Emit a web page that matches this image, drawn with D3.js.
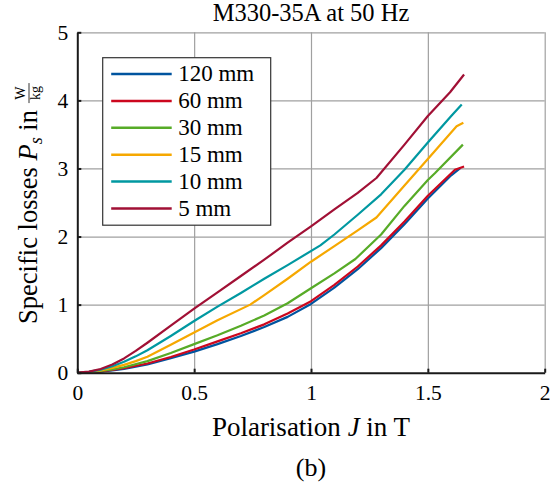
<html>
<head>
<meta charset="utf-8">
<script src="https://d3js.org/d3.v7.min.js"></script>
<style>
body { margin: 0; background: #fff; }
svg text { font-family: "Liberation Serif", "Times New Roman", Times, "DejaVu Serif", serif !important; fill: #000; }
</style>
</head>
<body>
<script>
// series (legend order)
const seriesNames = ["120 mm", "60 mm", "30 mm", "15 mm", "10 mm", "5 mm"];
const seriesColors = ["#00549F", "#CC071E", "#57AB27", "#F6A800", "#0098A1", "#A11035"];

// polarisation J in T / specific losses in W/kg
const j120 = [0, 0.05, 0.1, 0.15, 0.2, 0.3, 0.4, 0.5, 0.6, 0.7, 0.8, 0.9, 1.0, 1.1, 1.2, 1.3, 1.4, 1.5, 1.6, 1.64];
const p120 = [0, 0.005, 0.017, 0.035, 0.057, 0.123, 0.215, 0.31, 0.42, 0.54, 0.67, 0.82, 1.01, 1.25, 1.52, 1.83, 2.18, 2.56, 2.90, 3.01];
const j60 = [0, 0.05, 0.1, 0.15, 0.2, 0.3, 0.4, 0.5, 0.6, 0.7, 0.8, 0.9, 1.0, 1.1, 1.2, 1.3, 1.4, 1.5, 1.616, 1.655];
const p60 = [0, 0.006, 0.02, 0.04, 0.065, 0.135, 0.23, 0.34, 0.46, 0.58, 0.71, 0.87, 1.05, 1.29, 1.56, 1.87, 2.22, 2.60, 2.98, 3.03];
const j30 = [0, 0.05, 0.1, 0.15, 0.2, 0.3, 0.4, 0.5, 0.6, 0.7, 0.8, 0.9, 1.0, 1.1, 1.19, 1.3, 1.4, 1.5, 1.53, 1.65];
const p30 = [0, 0.007, 0.025, 0.05, 0.08, 0.17, 0.29, 0.42, 0.55, 0.69, 0.84, 1.02, 1.24, 1.46, 1.67, 2.03, 2.45, 2.83, 2.93, 3.35];
const j15 = [0, 0.05, 0.1, 0.15, 0.2, 0.25, 0.3, 0.4, 0.5, 0.6, 0.74, 0.8, 0.9, 1.0, 1.1, 1.2, 1.28, 1.4, 1.5, 1.623, 1.652];
const p15 = [0, 0.01, 0.035, 0.07, 0.115, 0.17, 0.235, 0.41, 0.59, 0.77, 1.0, 1.14, 1.38, 1.63, 1.86, 2.09, 2.28, 2.75, 3.14, 3.62, 3.67];
const j10 = [0, 0.05, 0.1, 0.15, 0.2, 0.25, 0.3, 0.4, 0.5, 0.6, 0.7, 0.8, 0.9, 1.04, 1.1, 1.2, 1.3, 1.4, 1.5, 1.6, 1.645];
const p10 = [0, 0.012, 0.045, 0.095, 0.16, 0.24, 0.33, 0.54, 0.76, 0.97, 1.17, 1.38, 1.58, 1.87, 2.03, 2.32, 2.62, 2.98, 3.38, 3.77, 3.94];
const j5 = [0, 0.05, 0.1, 0.15, 0.2, 0.25, 0.3, 0.4, 0.5, 0.6, 0.7, 0.8, 0.9, 1.0, 1.1, 1.2, 1.28, 1.4, 1.5, 1.595, 1.655];
const p5 = [0, 0.015, 0.055, 0.12, 0.21, 0.32, 0.44, 0.69, 0.94, 1.18, 1.42, 1.66, 1.91, 2.15, 2.40, 2.64, 2.86, 3.35, 3.77, 4.12, 4.38];

const xTicks = [0, 0.5, 1, 1.5, 2];
const yTicks = [0, 1, 2, 3, 4, 5];

const allJ = [j120, j60, j30, j15, j10, j5];
const allP = [p120, p60, p30, p15, p10, p5];

const width = 553, height = 494;
const plot = {left: 77.3, right: 544.7, top: 32.3, bottom: 372.7};

const svg = d3.select("body").append("svg")
	.attr("width", width)
	.attr("height", height);

const x = d3.scaleLinear().domain([0, 2]).range([plot.left, plot.right]);
const y = d3.scaleLinear().domain([0, 5]).range([plot.bottom, plot.top]);

// grid
svg.append("g")
	.attr("transform", "translate(0," + plot.bottom + ")")
	.call(d3.axisBottom(x).tickValues(xTicks.slice(1)).tickSize(-(plot.bottom - plot.top)).tickFormat(""))
	.call(g => g.select(".domain").remove())
	.call(g => g.selectAll("line").attr("stroke", "#a0a0a0").attr("stroke-width", 1.2));

svg.append("g")
	.attr("transform", "translate(" + plot.left + ",0)")
	.call(d3.axisLeft(y).tickValues(yTicks.slice(1)).tickSize(-(plot.right - plot.left)).tickFormat(""))
	.call(g => g.select(".domain").remove())
	.call(g => g.selectAll("line").attr("stroke", "#a0a0a0").attr("stroke-width", 1.2));

// lines
const line = d3.line()
	.x(d => x(d[0]))
	.y(d => y(d[1]));

seriesNames.forEach(function(name, i) {
	const pts = allJ[i].map((v, k) => [v, allP[i][k]]);
	svg.append("path")
		.datum(pts)
		.attr("fill", "none")
		.attr("stroke", seriesColors[i])
		.attr("stroke-width", 2.2)
		.attr("stroke-linejoin", "round")
		.attr("d", line);
});

// axes
const xAxis = svg.append("g")
	.attr("transform", "translate(0," + plot.bottom + ")")
	.call(d3.axisBottom(x).tickValues(xTicks).tickSizeInner(-4).tickSizeOuter(0).tickPadding(12).tickFormat(d3.format("")));
const yAxis = svg.append("g")
	.attr("transform", "translate(" + plot.left + ",0)")
	.call(d3.axisLeft(y).tickValues(yTicks).tickSizeInner(-4).tickSizeOuter(0).tickPadding(9).tickFormat(d3.format("")));

[xAxis, yAxis].forEach(function(g) {
	g.attr("font-family", null);
	g.select(".domain").attr("stroke", "#1a1a1a").attr("stroke-width", 2);
	g.selectAll(".tick line").attr("stroke", "#1a1a1a").attr("stroke-width", 2);
	g.selectAll(".tick text").attr("font-size", 21.5).attr("fill", "#000");
});
yAxis.selectAll(".tick text").attr("dy", "0.32em");
xAxis.selectAll(".tick text").attr("dy", "0.71em");

// title
svg.append("text")
	.attr("x", (plot.left + plot.right) / 2)
	.attr("y", 21)
	.attr("text-anchor", "middle")
	.attr("font-size", 24.5)
	.text("M330-35A at 50 Hz");

// x label
const xl = svg.append("text")
	.attr("x", (plot.left + plot.right) / 2)
	.attr("y", 436)
	.attr("text-anchor", "middle")
	.attr("font-size", 27);
xl.append("tspan").text("Polarisation ");
xl.append("tspan").attr("font-style", "italic").text("J");
xl.append("tspan").text(" in T");

// y label with fraction
const yl = svg.append("g").attr("transform", "translate(37,0) rotate(-90)");
const ylt = yl.append("text").attr("x", 0).attr("y", 0).attr("font-size", 26.5);
ylt.append("tspan").text("Specific losses ");
ylt.append("tspan").attr("font-style", "italic").text("P");
ylt.append("tspan").attr("font-style", "italic").attr("font-size", 18).attr("dy", 5).text("s");
ylt.append("tspan").attr("dy", -5).text(" in");
const mainLen = ylt.node().getComputedTextLength();
const gap = 6;
const fracW = 22;
const total = mainLen + gap + fracW;
const startX = -(203 + total / 2);
ylt.attr("x", startX);
const fx = startX + mainLen + gap + fracW / 2;
yl.append("text").attr("x", fx).attr("y", -12.5).attr("text-anchor", "middle").attr("font-size", 14).text("W");
yl.append("text").attr("x", fx).attr("y", 2.5).attr("text-anchor", "middle").attr("font-size", 14).text("kg");
yl.append("line").attr("x1", fx - 10).attr("x2", fx + 10).attr("y1", -8).attr("y2", -8)
	.attr("stroke", "#000").attr("stroke-width", 0.8);

// legend
const leg = svg.append("g").attr("transform", "translate(102.7,57.7)");
leg.append("rect")
	.attr("width", 168).attr("height", 167.5)
	.attr("fill", "#fff")
	.attr("stroke", "#333").attr("stroke-width", 1.2);
seriesNames.forEach(function(name, i) {
	const ry = 16.3 + i * 26.9;
	leg.append("line")
		.attr("x1", 8.5).attr("x2", 69)
		.attr("y1", ry).attr("y2", ry)
		.attr("stroke", seriesColors[i]).attr("stroke-width", 2.5);
	leg.append("text")
		.attr("x", 75.5).attr("y", ry + 7.5)
		.attr("font-size", 23)
		.text(name);
});

// panel label
svg.append("text")
	.attr("x", (plot.left + plot.right) / 2)
	.attr("y", 476)
	.attr("text-anchor", "middle")
	.attr("font-size", 26)
	.text("(b)");
</script>
</body>
</html>
